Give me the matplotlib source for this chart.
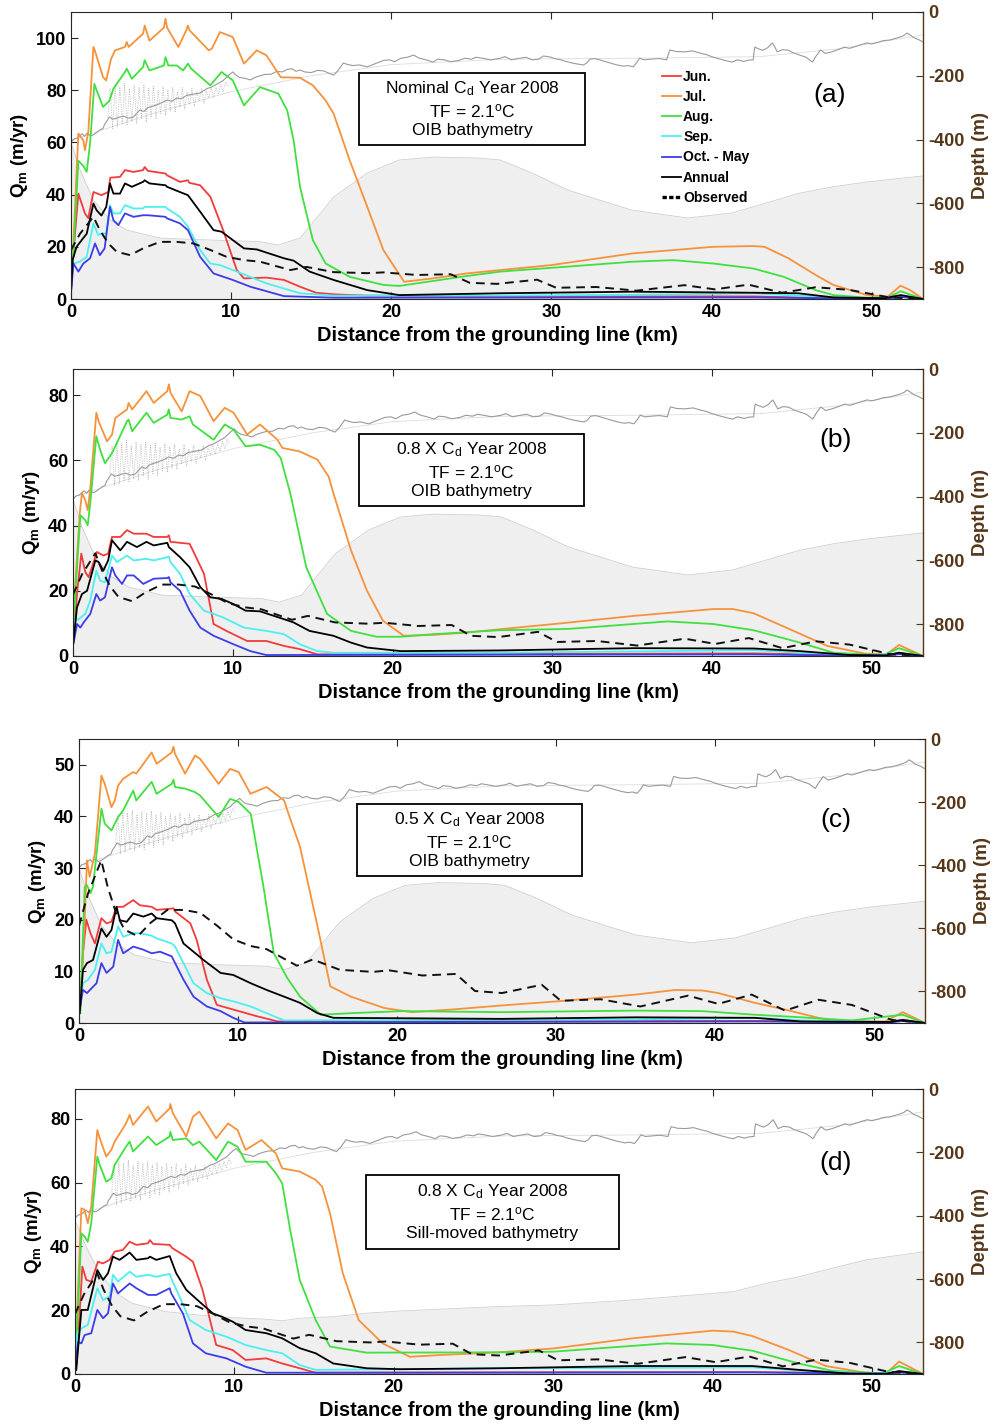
import numpy as np
import matplotlib
matplotlib.use("Agg")
import matplotlib.pyplot as plt
from matplotlib.lines import Line2D
from matplotlib.patches import Rectangle

plt.rcParams["font.family"] = ["Liberation Sans", "DejaVu Sans"]
plt.rcParams["mathtext.default"] = "regular"
plt.rcParams["axes.unicode_minus"] = False

# ---------------------------------------------------------------- data
# bathymetry (km, depth m)
oib_bathy = [(0, -408), (0.56, -495), (1.4, -590), (2.43, -652), (3.5, -684), (5.56, -709),
             (8, -714), (11.8, -720), (12.9, -731), (14.3, -709), (16.4, -580), (18.5, -505),
             (20.5, -464), (22.6, -455), (25.5, -458), (26.8, -464), (28.8, -505), (31, -558),
             (35, -621), (38.5, -646), (41.3, -630), (43.4, -599), (45.5, -568), (47.6, -548),
             (49.7, -533), (53.2, -514)]
sill_bathy = [(0, -414), (0.7, -498), (1.55, -582), (2.6, -645), (3.6, -677), (5.7, -703),
              (7.8, -714), (9.9, -722), (12, -727), (13, -732), (14.1, -724), (16.2, -719),
              (18.3, -708), (20.4, -701), (26.6, -687), (30, -682), (35, -666), (41.3, -640),
              (43.4, -613), (45.4, -593), (47.5, -566), (49.6, -540), (53.2, -514)]

# ice-shelf draft, raw profile and smoothed
draft = [(0, -408), (0.2, -398), (0.4, -395), (0.55, -388), (0.7, -382), (0.85, -390), (1.0, -380),
         (1.2, -388), (1.37, -386), (1.6, -378), (1.8, -370), (2.0, -365), (2.1, -352), (2.2, -345),
         (2.4, -329), (2.6, -336), (2.8, -334), (3.0, -330), (3.3, -327), (3.6, -333), (3.9, -329),
         (4.1, -318), (4.3, -307), (4.55, -312), (4.8, -300), (5.05, -296), (5.3, -292), (5.6, -286),
         (6.0, -276), (6.3, -280), (6.6, -270), (6.9, -272), (7.2, -262), (7.6, -258), (8.06, -254),
         (8.3, -246), (8.5, -240), (8.75, -236), (9.0, -229), (9.25, -222), (9.5, -215), (9.8, -200),
         (10.1, -188), (10.3, -198), (10.5, -205), (10.85, -208), (11.2, -213), (11.5, -205),
         (11.8, -200), (12.1, -196), (12.5, -195), (12.85, -186), (13.2, -188), (13.5, -180),
         (13.8, -178), (14.05, -186), (14.3, -182), (14.6, -188), (15.0, -190), (15.4, -183),
         (15.8, -185), (16.1, -192), (16.4, -198), (16.7, -182), (17.0, -160), (17.3, -165),
         (17.6, -168), (18.0, -166), (18.5, -172), (18.85, -165), (19.2, -158), (19.5, -152),
         (19.9, -150), (20.2, -156), (20.6, -145), (21.0, -142), (21.4, -135), (21.7, -144),
         (22.0, -148), (22.3, -152), (22.6, -157), (22.9, -148), (23.3, -150), (23.7, -156),
         (24.2, -152), (24.6, -145), (25.0, -148), (25.3, -142), (25.7, -145), (26.2, -150),
         (26.8, -145), (27.1, -140), (27.5, -150), (27.9, -146), (28.4, -142), (28.8, -150),
         (29.2, -148), (29.5, -138), (29.9, -141), (30.2, -146), (30.6, -150), (30.9, -155),
         (31.3, -160), (31.6, -163), (32, -166), (32.2, -160), (32.4, -148), (32.7, -146),
         (33, -150), (33.4, -156), (33.8, -162), (34.1, -166), (34.5, -170), (34.8, -168),
         (35.1, -172), (35.3, -160), (35.5, -145), (35.8, -150), (36.2, -148), (36.7, -146),
         (37.2, -150), (37.3, -132), (37.4, -119), (37.8, -124), (38.3, -125), (38.8, -122),
         (39.3, -129), (39.7, -134), (40.0, -140), (40.4, -146), (40.7, -150), (41.0, -154),
         (41.3, -157), (41.6, -150), (42.0, -155), (42.3, -151), (42.6, -150), (42.65, -125),
         (42.7, -110), (42.95, -116), (43.2, -120), (43.5, -112), (43.8, -97), (43.95, -110),
         (44.1, -125), (44.45, -118), (44.8, -120), (45.1, -128), (45.5, -135), (45.9, -142),
         (46.3, -157), (46.5, -140), (46.8, -119), (47.1, -130), (47.5, -125), (47.9, -118),
         (48.3, -110), (48.6, -114), (49.0, -108), (49.3, -103), (49.7, -97), (50.0, -100),
         (50.4, -95), (50.7, -90), (51.1, -88), (51.4, -84), (51.8, -78), (52.0, -74), (52.2, -66),
         (52.4, -72), (52.6, -80), (52.9, -86), (53.2, -94)]
draft_smooth = [(0, -402), (5, -320), (10, -250), (15, -200), (20, -165), (27, -148),
                (35, -145), (43, -140), (48, -115), (53.2, -72)]
draft_noise = [(2.3, -330), (2.45, -240), (2.6, -365), (2.75, -228), (2.9, -360), (3.05, -235),
               (3.2, -350), (3.35, -225), (3.5, -355), (3.65, -240), (3.8, -345), (3.95, -230),
               (4.1, -350), (4.25, -235), (4.4, -335), (4.55, -228), (4.7, -345), (4.85, -240),
               (5.0, -330), (5.15, -232), (5.3, -335), (5.45, -245), (5.6, -320), (5.75, -235),
               (5.9, -325), (6.05, -245), (6.2, -310), (6.35, -235), (6.5, -315), (6.65, -250),
               (6.8, -300), (6.95, -238), (7.1, -305), (7.25, -250), (7.4, -290), (7.55, -240),
               (7.7, -295), (7.85, -252), (8.0, -280), (8.15, -240), (8.3, -285), (8.45, -248),
               (8.6, -270), (8.75, -238), (8.9, -268), (9.05, -235), (9.2, -258), (9.35, -228),
               (9.5, -250), (9.65, -220), (9.8, -235)]

# observed melt rate (km, m/yr)
observed = [(0, 18.8), (0.56, 25), (1.4, 31.5), (1.8, 26.4), (2.33, 21.3), (2.85, 18.1),
            (3.7, 16.8), (4.5, 19.4), (5.56, 21.9), (6.6, 21.9), (7.64, 21.3), (8.7, 18.8),
            (9.7, 16.2), (10.8, 14.9), (11.8, 14.3), (13.7, 11.1), (14.7, 12.3), (16.4, 10.3),
            (18.5, 9.9), (19.5, 10.2), (21.6, 9.2), (23.7, 9.5), (24.9, 6.2), (26.6, 5.8),
            (29.1, 7.4), (30.3, 4.3), (32.8, 4.6), (35.3, 3.2), (38.3, 5.3), (40.2, 3.7),
            (42.3, 5.5), (44.4, 2.4), (46.5, 4.5), (48.6, 3.5), (51.1, 0.6), (53.2, 0)]

# (a) nominal Cd
a_jun = [(0, 4.7), (0.25, 25), (0.46, 40.4), (0.87, 32.8), (1.08, 31), (1.4, 41), (1.9, 39.8),
         (2.33, 41), (2.45, 46.5), (3.06, 46.8), (3.37, 49.4), (3.9, 48.7), (4.5, 49.4),
         (4.6, 50.6), (4.8, 49.1), (5.9, 48.1), (6.0, 47.4), (6.8, 44.9), (7.3, 45.5), (7.4, 44.5),
         (8.06, 43.6), (8.7, 39.2), (9.5, 26.4), (10.35, 11.1), (10.8, 7.9), (12.2, 8.2),
         (13.3, 7.3), (14.3, 4.7), (15.3, 2.4), (16.4, 1.8), (18.5, 1.3), (26.8, 1.1), (35, 1.0),
         (42.6, 1.0), (46, 0.5), (51, 0.3), (51.8, 1.2), (53.2, 0)]
a_jul = [(0, 14), (0.1, 15), (0.46, 63.4), (0.77, 60.8), (0.87, 57), (1.08, 64), (1.4, 96.6),
         (1.5, 95), (2.0, 85), (2.2, 83.8), (2.5, 92), (2.75, 95.3), (3.37, 96.6), (3.48, 98.5),
         (3.6, 96.6), (4.5, 101.7), (4.6, 104.8), (4.9, 99), (5.8, 104), (5.9, 107.4), (6.0, 104),
         (6.7, 96.6), (7.2, 103), (7.3, 104.8), (7.4, 103), (8.6, 95.3), (8.8, 96), (9.3, 102.3),
         (10.1, 100.4), (10.8, 90.2), (11.6, 95.3), (12.2, 93.4), (13.1, 85), (14.3, 84.8),
         (15.1, 81.9), (15.9, 76.1), (16.4, 71), (17.4, 53.2), (18.5, 35.3), (19.5, 18.8),
         (20.8, 6.6), (22.6, 7.9), (24.7, 9.8), (26.8, 11.1), (30, 13), (35.1, 17.5), (40.1, 20),
         (42.6, 20.3), (43.3, 20), (44.8, 15.6), (46.5, 9.2), (47.6, 5.4), (49.7, 1.5), (51, 0.9),
         (51.8, 5.1), (52.4, 3.4), (53.2, 0)]
a_aug = [(0, 11), (0.1, 12), (0.46, 53), (0.77, 51), (0.98, 48.7), (1.19, 59.6), (1.46, 82.5),
         (1.6, 80), (2.0, 73.6), (2.4, 76), (2.65, 80.6), (3.37, 87), (3.48, 88.3), (3.8, 84.4),
         (4.5, 88.9), (4.6, 91.5), (4.9, 87.6), (5.8, 89.5), (5.9, 92.7), (6.08, 89.5), (6.6, 89.5),
         (7.0, 87.6), (7.3, 90.2), (7.5, 88.3), (8.7, 81.9), (9.4, 87), (10.1, 83.8), (10.8, 74.2),
         (11.8, 81.2), (12.95, 78.7), (13.5, 72.3), (13.9, 60.8), (14.3, 43), (15.1, 22.6),
         (15.9, 13.6), (17.4, 8.5), (19.5, 5.4), (20.5, 5), (22.6, 6.9), (24.7, 8.8), (26.8, 10.5),
         (31, 12.4), (35.1, 14.3), (37.6, 14.9), (40.1, 13.6), (42.6, 11.7), (44.5, 8.5),
         (46.5, 3.4), (47.6, 1.5), (49.7, 0.5), (51, 0.5), (51.8, 3), (53.2, 0)]
a_sep = [(0, 4.7), (0.15, 13.6), (0.56, 14.3), (0.98, 16.2), (1.4, 29), (1.7, 24.5), (1.9, 25.1),
         (2.2, 25.1), (2.43, 36), (2.65, 32.8), (3.06, 32.8), (3.37, 36), (3.9, 34.7), (4.5, 34.7),
         (4.6, 35.3), (5.9, 35.3), (6.0, 34.7), (6.8, 31.5), (7.3, 27.7), (8.06, 18.8), (8.7, 13.6),
         (9.3, 13), (10.1, 11.1), (12.2, 6), (14.3, 2.2), (16.4, 1.3), (26.8, 1.3), (35, 1.6),
         (42.6, 2.2), (45.4, 1.3), (49.7, 0.3), (51.8, 0.9), (53.2, 0)]
a_oct = [(0, 2.2), (0.15, 13.6), (0.46, 10.5), (0.77, 13.6), (1.19, 15.6), (1.5, 21.3),
         (1.8, 16.8), (2.1, 19.4), (2.43, 35.3), (2.65, 30.2), (2.96, 28.3), (3.37, 32.8),
         (3.9, 31.5), (4.5, 32.1), (4.8, 32.1), (5.9, 31.5), (6.0, 30.9), (6.8, 29), (7.3, 26.4),
         (8.06, 16.2), (8.9, 9.8), (10.1, 7.3), (11.2, 4.7), (13.3, 1.1), (16.4, 0.5), (42.6, 0.6),
         (47, 0.3), (51, 0.2), (51.8, 0.8), (53.2, 0)]
a_ann = [(0, 2.2), (0.1, 15), (0.35, 20), (0.67, 22.6), (0.98, 25), (1.4, 36.6), (1.6, 34),
         (1.9, 32), (2.2, 35.3), (2.43, 44.3), (2.65, 40.4), (3.06, 40.4), (3.37, 44.3), (3.8, 43),
         (4.5, 44.9), (4.6, 45.5), (4.9, 44.3), (5.9, 43.6), (6.0, 43), (6.8, 41), (7.3, 39.8),
         (8.06, 33.5), (8.9, 26.4), (9.4, 25.8), (10.1, 22.6), (10.8, 19.4), (11.6, 19),
         (13.3, 15.6), (13.9, 14.7), (14.9, 10.5), (16.4, 7.3), (18.5, 3.4), (20.5, 1.5),
         (26.8, 2.2), (35.1, 2.8), (42.6, 2.4), (45.4, 2.2), (47.6, 0.6), (50.8, 0.3), (51.8, 1.5),
         (53.2, 0)]

# (b) 0.8 x Cd
b_jun = [(0.04, 5.7), (0.25, 19), (0.52, 31.4), (0.77, 25.7), (0.98, 24.2), (1.5, 31.9),
         (1.9, 30.8), (2.2, 31.4), (2.44, 36.5), (2.96, 36.5), (3.38, 38.6), (3.8, 37.5),
         (4.6, 37.5), (5.05, 36.5), (5.9, 36.5), (6.0, 37), (6.1, 35), (7.3, 34.4), (7.5, 32.4),
         (8.2, 25.2), (8.8, 9.8), (9.6, 7.7), (10.9, 4.6), (12.1, 4.6), (13.2, 3.1), (14.2, 2.1),
         (15.3, 0.5), (26.7, 0.6), (42.6, 0.8), (47, 0.4), (51, 0.2), (51.7, 0.9), (53.2, 0)]
b_jul = [(0, 10), (0.08, 17), (0.42, 43.7), (0.56, 49.9), (0.77, 47.8), (0.92, 44.7),
         (1.08, 51.4), (1.46, 74.6), (1.6, 72), (2.13, 65.8), (2.44, 67.9), (2.65, 73), (3.38, 75.6),
         (3.48, 77.6), (3.7, 75.6), (4.6, 81.2), (5.05, 77.6), (5.9, 81.2), (6.0, 83.3), (6.1, 80.7),
         (6.8, 75), (7.3, 81.2), (7.97, 79.7), (8.8, 72), (9.5, 76.1), (10.05, 74.6), (10.9, 67.9),
         (11.7, 71), (12.8, 66.3), (13.1, 63.8), (14.2, 62.7), (15.3, 60.2), (16, 55), (16.3, 49.9),
         (17.4, 32.4), (18.4, 20), (19.4, 10.8), (20.7, 6.2), (22.6, 6.5), (24.7, 7.2), (26.7, 8.2),
         (30.1, 9.8), (35.1, 12.3), (40.1, 14.4), (41.3, 14.4), (42.6, 13.1), (45.1, 7.7),
         (47.2, 3.1), (49.6, 0.7), (50.9, 0.5), (51.7, 3.4), (53.2, 0)]
b_aug = [(0, 8), (0.08, 13.9), (0.46, 43.2), (0.77, 41.6), (0.92, 40.1), (1.08, 46.8),
         (1.46, 67.4), (1.7, 63.2), (2.0, 59.1), (2.44, 62.2), (2.65, 64.3), (3.38, 72), (3.48, 72.5),
         (3.7, 68.9), (4.6, 74.6), (5.05, 71.5), (5.9, 74), (6.0, 75.6), (6.1, 73), (6.8, 72.5),
         (7.3, 73.5), (7.5, 71), (8.8, 66.3), (9.5, 71), (10.05, 69.4), (10.8, 64.3), (11.7, 64.8),
         (12.6, 63.2), (13.0, 60.7), (13.6, 49.9), (14.6, 27.2), (15.9, 12.9), (17.4, 7.7),
         (19.0, 5.9), (20.5, 5.9), (22.6, 6.7), (26.7, 7.9), (31, 8.3), (37.2, 10.6), (40.1, 9.8),
         (42.6, 7.9), (45.5, 4.1), (47.6, 1), (50.7, 0.2), (51.7, 2.4), (53.2, 0)]
b_sep = [(0, 4), (0.08, 10.8), (0.35, 11.3), (0.77, 12.9), (1.08, 17), (1.46, 26.2), (1.7, 23.1),
         (2.0, 22.6), (2.44, 30.8), (2.75, 28.8), (3.38, 30.8), (3.8, 29.3), (4.6, 29.8),
         (5.05, 29.3), (5.9, 30.3), (6.0, 30.5), (6.1, 28.8), (6.7, 25.2), (7.3, 19), (8.2, 13.9),
         (8.8, 12.9), (9.4, 11.8), (10.7, 8.7), (12.1, 7.7), (13.2, 6.7), (14.2, 3.6), (15.3, 1.5),
         (16.3, 1), (26.7, 1), (35, 1.4), (42.6, 1.8), (45.5, 1), (49.6, 0.2), (51.7, 0.7), (53.2, 0)]
b_oct = [(0.04, 4.1), (0.25, 9.8), (0.46, 8.7), (0.67, 10.3), (1.08, 12.9), (1.46, 19), (1.7, 17),
         (2.0, 18), (2.44, 27.2), (2.65, 24.7), (3.07, 22.1), (3.38, 24.7), (3.8, 24.7), (4.4, 22.1),
         (5.05, 23.7), (5.9, 23.9), (6.0, 24.2), (6.1, 22.6), (6.7, 20), (7.3, 13.9), (7.97, 8.7),
         (8.8, 6.2), (10.05, 3.6), (11.1, 1.5), (12.1, 0.3), (42.6, 0.5), (47, 0.2), (51, 0.1),
         (51.7, 0.6), (53.2, 0)]
b_ann = [(0, 3), (0.25, 14.9), (0.56, 19), (0.88, 20), (1.4, 29.3), (1.6, 28.8), (1.9, 26.2),
         (2.2, 29.3), (2.44, 35.5), (2.96, 32.4), (3.38, 35), (4.0, 33.4), (4.6, 35), (5.05, 33.9),
         (5.9, 34.7), (6.0, 33.4), (6.7, 30.3), (7.3, 27.2), (7.97, 21.1), (8.6, 18), (9.3, 17.5),
         (10.05, 15.9), (10.8, 13.9), (11.7, 13.7), (13.2, 11.3), (13.8, 10.3), (14.8, 7.7),
         (16.3, 6.2), (17.4, 4.1), (18.4, 2.6), (20.5, 1.5), (26.7, 1.7), (35.1, 2.4), (42.6, 2.3),
         (45.5, 1.5), (48.6, 0.3), (50.9, 0.2), (51.7, 1), (53.2, 0)]

# (c) 0.5 x Cd
c_jun = [(0.04, 1.9), (0.25, 13.5), (0.46, 20), (0.72, 17.4), (1.0, 15.4), (1.41, 20.3),
         (1.73, 19.3), (2.04, 19.6), (2.36, 22.5), (2.78, 22.5), (3.41, 23.8), (3.83, 22.8),
         (4.57, 22.5), (4.88, 21.9), (5.94, 22.2), (6.04, 21.6), (7.0, 19.3), (7.4, 16.1),
         (8.04, 8.4), (8.67, 3.5), (9.7, 2.6), (11.2, 1.3), (12.5, 0.3), (42.5, 0.4), (51, 0.2),
         (51.8, 0.6), (53.2, 0)]
c_jul = [(0.08, 2.6), (0.36, 20), (0.5, 31.5), (0.67, 28.3), (1.0, 32.8), (1.41, 47.9),
         (1.62, 46.3), (2.04, 41.8), (2.25, 43.1), (2.46, 46), (2.78, 47.3), (3.41, 48.6),
         (3.6, 48.3), (4.57, 52.4), (4.88, 50.2), (5.83, 52.4), (5.94, 53.5), (6.04, 52.1),
         (6.67, 48.3), (7.3, 51.8), (7.6, 51.2), (8.78, 46.3), (9.5, 49.2), (10.04, 48.6),
         (10.78, 44.4), (11.8, 45.7), (12.9, 43.1), (13.1, 41.2), (13.9, 34.1), (15.0, 18.7),
         (15.8, 7.1), (17.1, 5.1), (19.2, 2.9), (20.9, 2.1), (23.4, 2.6), (26.6, 3.4), (30.1, 4.2),
         (35, 5.5), (37.5, 6.4), (39.2, 6.3), (40.2, 5.8), (42.5, 3.9), (44.4, 2.6), (46.5, 1),
         (47.6, 0.3), (50.7, 0.3), (51.8, 2.1), (53.2, 0)]
c_aug = [(0.08, 1.9), (0.36, 26.4), (0.5, 26.7), (0.72, 25.1), (0.88, 26.4), (1.41, 41.5),
         (1.62, 38.6), (2.04, 37.3), (2.46, 39.9), (2.78, 41.2), (3.41, 45), (3.6, 43.1),
         (4.57, 46.7), (4.88, 44.4), (5.83, 46.3), (5.94, 47.1), (6.04, 45.7), (6.67, 45.4),
         (7.3, 44.7), (7.6, 44.1), (8.78, 39.9), (9.5, 43.4), (10.04, 42.8), (10.8, 40.5),
         (11.6, 26.4), (12.25, 13.5), (13.1, 8.7), (13.9, 5.1), (15.2, 1.6), (17.1, 1.9),
         (20.3, 2.3), (26.6, 2.1), (35, 2.4), (39.2, 2.3), (42.5, 1.6), (45.4, 1.1), (48.6, 0.5),
         (51.8, 1.6), (53.2, 0)]
c_sep = [(0.04, 3.2), (0.25, 7.7), (0.57, 8.4), (1.0, 10.3), (1.41, 15.4), (1.73, 13.5),
         (2.04, 13.8), (2.46, 18.7), (2.78, 16.7), (3.41, 17.4), (3.83, 17.4), (4.57, 16.9),
         (4.88, 16.4), (5.83, 15.4), (6.04, 14.8), (6.57, 11.6), (7.2, 7.7), (8.04, 5.8),
         (8.9, 4.8), (9.7, 4.2), (10.8, 3.2), (11.8, 1.9), (12.9, 0.5), (35, 0.7), (42.5, 1),
         (45.4, 0.5), (51, 0.2), (51.8, 0.5), (53.2, 0)]
c_oct = [(0.04, 2.6), (0.25, 6.4), (0.5, 5.8), (1.1, 7.7), (1.41, 11.6), (1.73, 9.7),
         (2.15, 10.9), (2.46, 16.1), (2.78, 13.5), (3.41, 14.8), (4.04, 14.2), (4.57, 13.5),
         (5.1, 13.8), (5.83, 12.9), (6.57, 8.4), (7.2, 5.1), (8.04, 3.2), (8.9, 2.3), (9.7, 1),
         (10.4, 0.1), (42.5, 0.3), (51, 0.1), (51.8, 0.4), (53.2, 0)]
c_ann = [(0.04, 1.9), (0.25, 10.3), (0.5, 11.6), (0.88, 12.2), (1.41, 18.3), (1.73, 16.7),
         (2.04, 18), (2.36, 22.5), (2.57, 19.9), (3.0, 19.6), (3.41, 21.2), (4.04, 20.6),
         (4.57, 21.2), (4.88, 20.3), (5.83, 19.9), (6.04, 19.3), (6.57, 15.4), (7.2, 13.8),
         (7.83, 12.2), (8.9, 9.7), (9.7, 9.3), (10.8, 7.7), (11.8, 6.4), (12.9, 5.1), (13.9, 3.9),
         (15.0, 1.9), (16.0, 1), (26.6, 0.8), (35, 1.1), (42.5, 1), (45.4, 0.3), (51, 0.2),
         (51.8, 0.6), (53.2, 0)]

# (d) 0.8 x Cd, sill-moved bathymetry
d_jun = [(0.08, 3.3), (0.29, 19), (0.46, 33.7), (0.71, 29.5), (1.02, 29), (1.44, 35.2),
         (1.76, 34.7), (2.17, 35.8), (2.49, 38.4), (3.0, 38.9), (3.43, 41.5), (3.85, 40.5),
         (4.58, 41), (4.7, 42), (4.9, 40.8), (5.94, 40.5), (6.1, 39.5), (6.98, 36.8), (7.4, 35.2),
         (8.0, 26.4), (8.86, 9.1), (9.9, 7.5), (10.7, 4.4), (12.0, 4.9), (13.0, 3.3), (14.1, 1.8),
         (15.1, 0.4), (42.5, 0.6), (51, 0.2), (51.7, 0.8), (53.2, 0)]
d_jul = [(0, 5), (0.13, 19), (0.4, 52), (0.6, 51.5), (0.8, 47.3), (1.02, 52.5), (1.4, 76.5),
         (1.55, 74), (1.96, 68.2), (2.28, 70.3), (2.49, 72.9), (3.2, 78.6), (3.43, 81.3),
         (3.64, 78.1), (4.58, 83.9), (5.1, 79.2), (5.94, 83.3), (5.98, 84.7), (6.14, 81.8),
         (6.98, 74.5), (7.4, 80.7), (7.8, 82.3), (8.86, 73.9), (9.6, 78.6), (10.2, 76.5),
         (10.7, 70.3), (11.7, 73.4), (12.6, 69.2), (13.0, 64.5), (14.1, 63.5), (15.1, 60.9),
         (15.5, 58.8), (16.0, 50.4), (16.8, 31.6), (17.8, 16.9), (19.3, 9.6), (21.0, 5.4),
         (23.1, 6), (26.6, 6.8), (30, 8), (35, 11.2), (40, 13.6), (41.3, 13.3), (42.5, 11.9),
         (44.8, 7.5), (47.1, 2.5), (49.6, 0.4), (50.9, 0.2), (51.7, 3.9), (53.2, 0)]
d_aug = [(0, 4), (0.13, 13.8), (0.4, 44.1), (0.6, 43.1), (0.8, 41.5), (1.02, 47.3), (1.4, 68.2),
         (1.55, 65.6), (1.96, 60.3), (2.28, 61.4), (2.49, 65.6), (3.2, 71.3), (3.43, 72.9),
         (3.64, 69.8), (4.58, 74.5), (5.1, 71.8), (5.94, 74.5), (5.98, 76), (6.14, 73.4),
         (6.98, 73.9), (7.4, 71.8), (7.8, 72.9), (8.86, 67.1), (9.6, 72.9), (10.2, 71.3),
         (10.7, 66.6), (12.0, 66.6), (12.6, 63), (13.0, 59.8), (13.5, 45.2), (14.1, 29.5),
         (15.1, 16.9), (16.0, 8.6), (18.3, 6.7), (26.6, 6.8), (30, 7), (37.1, 9.6), (40, 9.1),
         (42.5, 7.3), (45.4, 3.3), (47.5, 1), (50.7, 0.2), (51.7, 2.5), (53.2, 0)]
d_sep = [(0.08, 4), (0.13, 12.8), (0.4, 14.3), (0.8, 15.4), (1.4, 26.9), (1.76, 23.2),
         (2.17, 24.3), (2.38, 31.1), (2.7, 29), (3.43, 32.1), (3.85, 30.5), (4.58, 31.1),
         (5.1, 30.5), (5.94, 31.4), (6.04, 30), (6.56, 24.3), (7.2, 16.9), (8.2, 13.8), (9.5, 11.7),
         (10.7, 9.1), (12.0, 7.5), (13.0, 6.5), (14.1, 2.8), (15.1, 1.3), (26.6, 1.8), (35, 1.9),
         (42.5, 2.1), (45.4, 1.1), (49.6, 0.2), (51.7, 0.6), (53.2, 0)]
d_oct = [(0.04, 4.4), (0.2, 10.1), (0.4, 9.6), (0.6, 12.2), (1.02, 12.8), (1.4, 20.1),
         (1.76, 17.5), (2.07, 19), (2.38, 28.4), (2.7, 25.3), (3.43, 28.4), (3.85, 26.9),
         (4.58, 24.8), (5.1, 24.8), (5.94, 26.9), (6.04, 25.3), (6.77, 19), (7.4, 9.6), (8.2, 6.5),
         (9.5, 4.9), (10.7, 2.3), (12.0, 0.4), (42.5, 0.5), (51, 0.1), (51.7, 0.5), (53.2, 0)]
d_ann = [(0.08, 1.3), (0.4, 20.1), (0.8, 20.1), (1.4, 32.6), (1.76, 29.5), (2.07, 31.6),
         (2.38, 36.8), (2.8, 35.8), (3.43, 38.1), (3.85, 35.8), (4.58, 36.3), (4.7, 36.8),
         (5.1, 35.8), (5.94, 37), (6.35, 31.6), (6.98, 26.4), (7.8, 22.7), (8.65, 19), (9.2, 18),
         (9.9, 16.4), (10.7, 13.8), (12.0, 12.8), (13.0, 11.2), (14.1, 8.1), (15.1, 6.5),
         (16.2, 3.3), (18.3, 1.8), (20.4, 1.5), (26.6, 1.8), (35, 2.5), (42.5, 2.5), (45.4, 1.3),
         (48.6, 0.1), (50.9, 0.1), (51.7, 0.9), (53.2, 0)]

series_labels = ["Jun.", "Jul.", "Aug.", "Sep.", "Oct. - May", "Annual"]
series_colors = ["#f23b3b", "#f7923a", "#3fe03f", "#4cefef", "#3c3ce8", "#000000"]

panel_tags = ["(a)", "(b)", "(c)", "(d)"]
panel_cd = ["Nominal C$_d$ Year 2008", "0.8 X C$_d$ Year 2008",
            "0.5 X C$_d$ Year 2008", "0.8 X C$_d$ Year 2008"]
panel_bathy_name = ["OIB bathymetry", "OIB bathymetry", "OIB bathymetry", "Sill-moved bathymetry"]
panel_qmax = [110, 88, 55, 89.4]
panel_yticks = [[0, 20, 40, 60, 80, 100], [0, 20, 40, 60, 80], [0, 10, 20, 30, 40, 50],
                [0, 20, 40, 60, 80]]
panel_series = [[a_jun, a_jul, a_aug, a_sep, a_oct, a_ann],
                [b_jun, b_jul, b_aug, b_sep, b_oct, b_ann],
                [c_jun, c_jul, c_aug, c_sep, c_oct, c_ann],
                [d_jun, d_jul, d_aug, d_sep, d_oct, d_ann]]
panel_bathy = [oib_bathy, oib_bathy, oib_bathy, sill_bathy]

# --------------------------------------------------------------- layout
W, H = 993, 1428
# axes boxes in pixels: left, top, right, bottom
axes_px = [(71, 12, 923, 299), (73, 369, 923, 656), (79, 739, 925, 1023), (75, 1089, 923, 1374)]
# text boxes in pixels: left, top, right, bottom
box_px = [(359, 73, 585, 145), (359, 434, 584, 506), (357, 804, 582, 876), (366, 1175, 619, 1249)]
tag_px = [(830, 95), (836, 440), (836, 820), (836, 1163)]

BROWN = "#553618"
FRAME = "#262626"


def xy(pairs):
    a = np.asarray(pairs, dtype=float)
    return a[:, 0], a[:, 1]


def fx(px):
    return px / W


def fy(py):
    return 1 - py / H


fig = plt.figure(figsize=(W / 100, H / 100), dpi=100)

for i in range(4):
    L, T, R, B = axes_px[i]
    ax = fig.add_axes([fx(L), fy(B), (R - L) / W, (B - T) / H])
    ax2 = ax.twinx()
    ax.set_zorder(ax2.get_zorder() + 1)
    ax.patch.set_visible(False)

    # bathymetry + ice draft on the depth axis
    bx, bz = xy(panel_bathy[i])
    ax2.fill_between(bx, bz, -900, color="#efefef", lw=0)
    ax2.plot(bx, bz, color="#cfcfcf", lw=0.6)
    sx, sz = xy(draft_smooth)
    ax2.plot(sx, sz, color="#dcdcdc", lw=0.6)
    nx, nz = xy(draft_noise)
    ax2.plot(nx, nz, color="#a0a0a0", lw=0.7, ls=(0, (0.5, 1.3)))
    dx, dz = xy(draft)
    ax2.plot(dx, dz, color="#9a9a9a", lw=0.8)
    ax2.set_ylim(-900, 0)
    ax2.set_yticks([0, -200, -400, -600, -800])
    ax2.tick_params(axis="y", direction="in", length=5, width=0.8, colors=BROWN,
                    labelsize=13, pad=4)
    for lbl in ax2.get_yticklabels():
        lbl.set_fontweight("bold")
    ax2.set_ylabel("Depth (m)", color=BROWN, fontsize=13.5, fontweight="bold", labelpad=5)
    for side in ("left", "top", "bottom"):
        ax2.spines[side].set_visible(False)
    ax2.spines["right"].set_color(BROWN)
    ax2.spines["right"].set_linewidth(1.0)

    # melt-rate curves
    for pairs, col in zip(panel_series[i], series_colors):
        x, q = xy(pairs)
        ax.plot(x, q, color=col, lw=1.3)
    ox, oq = xy(observed)
    ax.plot(ox, oq, color="#111111", lw=1.4, ls=(0, (4.5, 3)))

    ax.set_xlim(0, 53.2)
    ax.set_ylim(0, panel_qmax[i])
    ax.set_xticks([0, 10, 20, 30, 40, 50])
    ax.set_yticks(panel_yticks[i])
    ax.tick_params(axis="both", direction="in", length=5, width=0.8, labelsize=13,
                   top=True, colors=FRAME, labelcolor="black")
    for lbl in ax.get_xticklabels() + ax.get_yticklabels():
        lbl.set_fontweight("bold")
    for side in ("left", "top", "bottom"):
        ax.spines[side].set_color(FRAME)
    ax.spines["right"].set_visible(False)
    ax.set_xlabel("Distance from the grounding line (km)", fontsize=14.4, fontweight="bold",
                  labelpad=4)
    ax.set_ylabel("Q$_m$ (m/yr)", fontsize=13.5, fontweight="bold", labelpad=4)

    # annotation box
    bl, bt, br, bb = box_px[i]
    fig.add_artist(Rectangle((fx(bl), fy(bb)), (br - bl) / W, (bb - bt) / H,
                             transform=fig.transFigure, fill=False, ec="black", lw=1.3))
    fig.text(fx((bl + br) / 2), fy((bt + bb) / 2),
             panel_cd[i] + "\nTF = 2.1$^o$C\n" + panel_bathy_name[i],
             ha="center", va="center", fontsize=12.5, linespacing=1.25)
    tx, ty = tag_px[i]
    fig.text(fx(tx), fy(ty), panel_tags[i], ha="center", va="center", fontsize=19)

    if i == 0:
        handles = [Line2D([], [], color=c, lw=1.3) for c in series_colors]
        handles.append(Line2D([], [], color="black", lw=2.4, ls=(0, (1.3, 0.7))))
        ax.legend(handles, series_labels + ["Observed"], loc="upper left",
                  bbox_to_anchor=(fx(662), fy(70)), bbox_transform=fig.transFigure,
                  frameon=False, borderpad=0, borderaxespad=0, handlelength=1.37,
                  handletextpad=0.15, labelspacing=0.44,
                  prop={"size": 10, "weight": "bold"})

fig.savefig("out.png", dpi=100)
